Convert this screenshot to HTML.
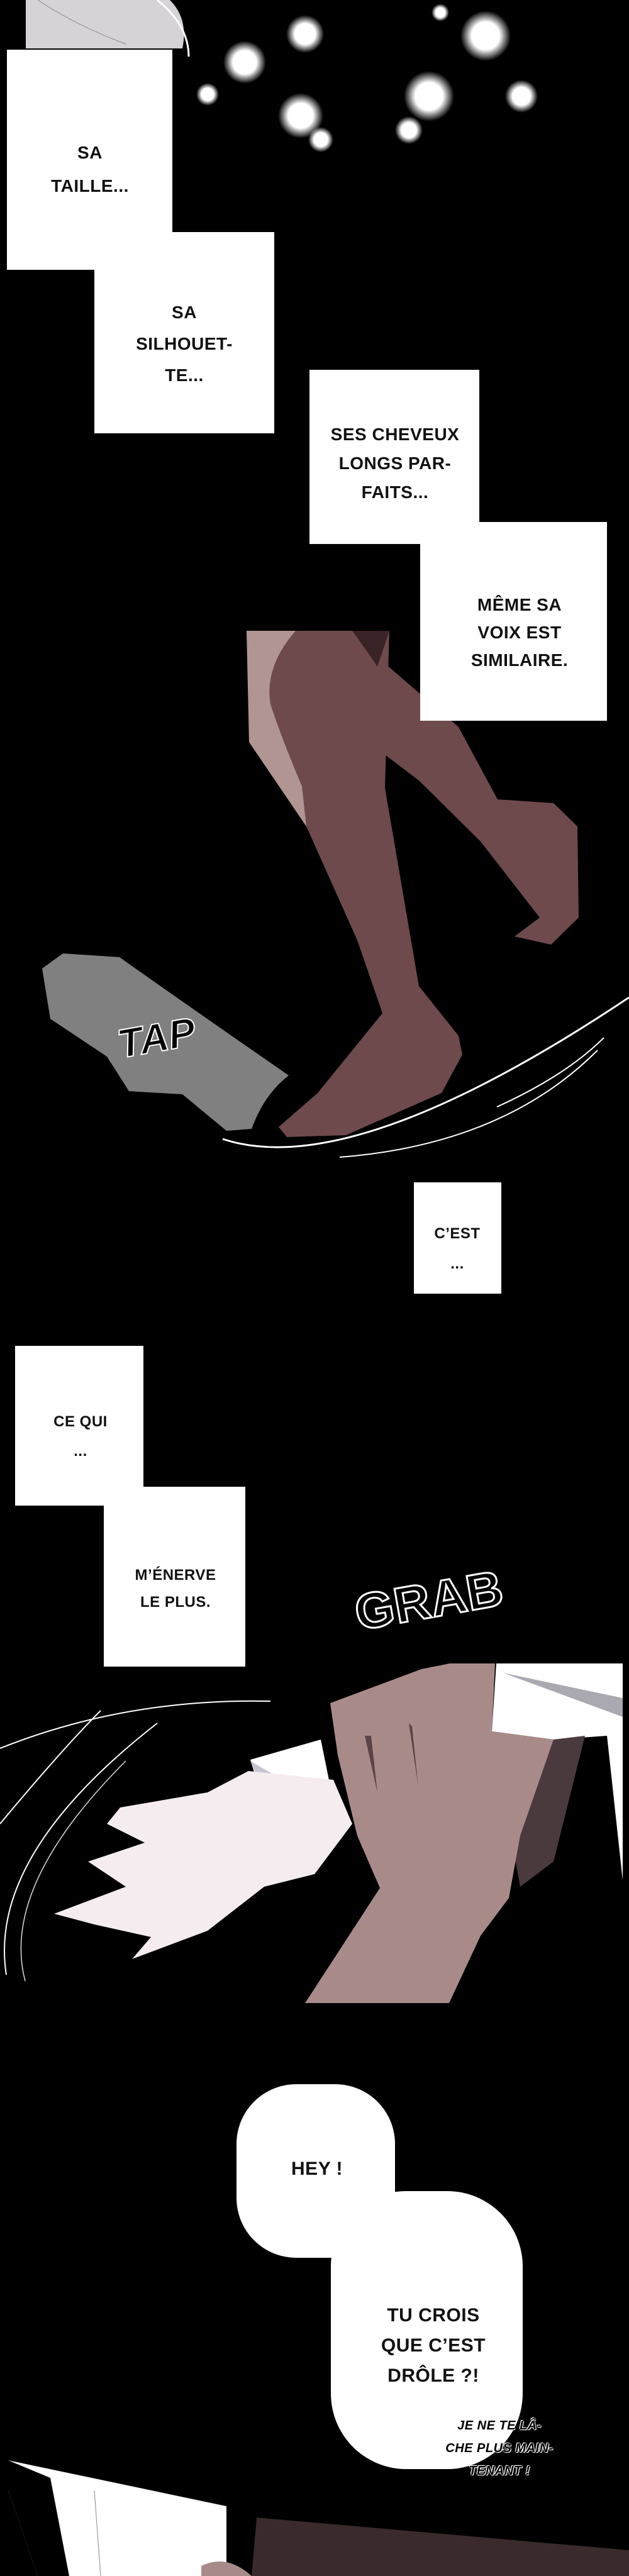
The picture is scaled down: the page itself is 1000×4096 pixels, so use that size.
<!DOCTYPE html>
<html><head><meta charset="utf-8"><style>
html,body{margin:0;padding:0;background:#000;}
#p{position:relative;width:1000px;height:4096px;background:#000;overflow:hidden;font-family:"Liberation Sans",sans-serif;}
.box{position:absolute;background:#fff;}
.t{position:absolute;color:#111;text-align:center;white-space:nowrap;transform:translateX(-50%);font-size:28px;line-height:1;letter-spacing:0.5px;font-weight:bold;}
svg{position:absolute;left:0;top:0;}
</style></head><body><div id="p">
<svg width="1000" height="4096" viewBox="0 0 1000 4096">
<defs>
<radialGradient id="g"><stop offset="0" stop-color="#fff"/><stop offset="0.55" stop-color="#fff"/><stop offset="1" stop-color="#fff" stop-opacity="0"/></radialGradient>
</defs>
<path d="M41 0 L270 0 Q300 30 290 77 L41 77 Z" fill="#d6d2d8"/>
<path d="M60 0 Q120 40 200 70" stroke="#888" fill="none"/>
<path d="M250 0 Q300 40 300 90" stroke="#fff" stroke-width="3" fill="none"/>
<g fill="url(#g)">
<circle cx="485" cy="54" r="30"/><circle cx="389" cy="99" r="34"/><circle cx="478" cy="184" r="36"/>
<circle cx="682" cy="153" r="40"/><circle cx="772" cy="57" r="40"/><circle cx="829" cy="153" r="26"/>
<circle cx="650" cy="207" r="22"/><circle cx="510" cy="222" r="20"/><circle cx="700" cy="20" r="14"/>
<circle cx="330" cy="150" r="18"/>
</g>
<path d="M568 1017 L729 1156 L791 1271 L880 1277 L918 1314 L920 1459 L876 1502 L818 1489 L858 1459 L764 1338 L666 1241 L546 1150 Z" fill="#6e4a4c"/>
<path d="M392 1003 L619 1003 L612 1253 L666 1568 L729 1647 L735 1677 L702 1738 L550 1805 L456 1808 L443 1792 L505 1738 L608 1611 L568 1495 L487 1314 L396 1180 Z" fill="#6e4a4c"/>
<path d="M392 1003 L470 1003 Q420 1060 430 1120 Q450 1180 480 1250 L487 1314 L396 1180 Z" fill="#b09592"/>
<path d="M560 1003 L619 1003 L600 1060 Q580 1030 560 1003Z" fill="#3a2326"/>
<path d="M67 1540 L100 1516 L190 1522 Q300 1600 459 1710 Q420 1740 400 1795 L360 1798 L290 1740 L205 1735 L170 1680 L80 1620 Z" fill="#808080"/>
<path d="M354 1811 Q560 1880 1000 1586" stroke="#fff" stroke-width="3" fill="none"/>
<path d="M540 1840 Q800 1820 950 1670" stroke="#fff" stroke-width="2" fill="none"/>
<path d="M790 1760 Q900 1710 960 1650" stroke="#fff" stroke-width="2" fill="none"/>
<path d="M0 2780 Q200 2700 430 2705" stroke="#fff" stroke-width="2" fill="none"/>
<path d="M10 3140 Q-20 2950 250 2740" stroke="#fff" stroke-width="2" fill="none"/>
<path d="M0 2900 Q100 2780 160 2720" stroke="#fff" stroke-width="2" fill="none"/>
<path d="M40 3150 Q0 3000 200 2800" stroke="#ddd" stroke-width="1.5" fill="none"/>
<path d="M789 2645 L990 2645 L990 2990 L965 2760 L880 2766 L782 2753 Z" fill="#fff"/>
<path d="M800 2660 L990 2700 L990 2730 Z" fill="#aaa8b0"/>
<path d="M782 2753 L880 2766 L930 2760 L880 2960 L827 3000 Z" fill="#4a3a3e"/>
<path d="M398 2798 L510 2766 L541 2919 L510 2925 L420 2870 Z" fill="#fff"/>
<path d="M398 2800 L500 2860 L510 2925 L440 2900 Z" fill="#c9c4d4"/>
<path d="M525 2708 L670 2654 L715 2645 L787 2645 L782 2753 L880 2766 L827 2919 L809 3018 L764 3078 L714 3185 L485 3185 L604 3002 L568 2919 L537 2791 Z" fill="#a88b88"/>
<path d="M580 2760 L600 2850 L590 2760 Z M650 2740 L665 2840 L655 2745Z" fill="#5a4448"/>
<path d="M191 2874 L330 2850 L395 2816 L530 2830 L560 2900 L500 2980 L420 3000 L330 3070 L210 3115 L240 3080 L150 3060 L86 3043 L200 3000 L140 2960 L230 2930 L170 2900 Z" fill="#f5ecef"/>
<rect x="376" y="3314" width="252" height="276" rx="95" fill="#fff"/>
<rect x="526" y="3484" width="305" height="442" rx="120" fill="#fff"/>
<path d="M13 3912 L360 3985 L360 4096 L60 4096 L13 3960 Z" fill="#fff"/>
<path d="M13 3912 L80 3940 L110 4096 L60 4096 L13 3960 Z" fill="#000"/>
<path d="M150 3960 L160 4096" stroke="#888" fill="none"/>
<path d="M408 4003 L1000 4055 L1000 4096 L400 4096 Z" fill="#3a2a2c"/>
<path d="M320 4080 Q360 4060 400 4096 L320 4096Z" fill="#a88b88"/>
</svg>
<div class="box" style="left:11px;top:79px;width:263px;height:350px"></div>
<div class="box" style="left:150px;top:369px;width:286px;height:320px"></div>
<div class="box" style="left:492px;top:588px;width:270px;height:277px"></div>
<div class="box" style="left:668px;top:830px;width:297px;height:316px"></div>
<div class="box" style="left:658px;top:1880px;width:139px;height:177px"></div>
<div class="box" style="left:24px;top:2140px;width:204px;height:254px"></div>
<div class="box" style="left:165px;top:2364px;width:225px;height:286px"></div>

<div class="t" style="left:143px;top:216px;line-height:53px">SA<br>TAILLE...</div>
<div class="t" style="left:293px;top:472px;line-height:50px">SA<br>SILHOUET-<br>TE...</div>
<div class="t" style="left:628px;top:668px;line-height:46px">SES CHEVEUX<br>LONGS PAR-<br>FAITS...</div>
<div class="t" style="left:826px;top:940px;line-height:44px">MÊME SA<br>VOIX EST<br>SIMILAIRE.</div>
<div class="t" style="left:727px;top:1938px;font-size:24px;line-height:48px">C’EST<br>...</div>
<div class="t" style="left:128px;top:2237px;font-size:24px;line-height:47px">CE QUI<br>...</div>
<div class="t" style="left:279px;top:2483px;font-size:24px;line-height:43px">M’ÉNERVE<br>LE PLUS.</div>
<div class="t" style="left:249px;top:1618px;font-size:64px;font-weight:bold;font-style:italic;color:#000;-webkit-text-stroke:2px #fff;transform:translateX(-50%) rotate(-10deg)">TAP</div>
<div class="t" style="left:682px;top:2505px;font-size:80px;font-weight:bold;color:#000;-webkit-text-stroke:3px #fff;transform:translateX(-50%) rotate(-10deg)">GRAB</div>
<div class="t" style="left:504px;top:3434px;font-size:30px">HEY !</div>
<div class="t" style="left:689px;top:3658px;font-size:30px;line-height:48px">TU CROIS<br>QUE C’EST<br>DRÔLE ?!</div>
<div class="t" style="left:794px;top:3839px;font-size:20px;font-style:italic;font-weight:bold;line-height:36px;color:#000;text-shadow:0 0 2px #fff,0 0 2px #fff,1px 1px 0 #fff,-1px -1px 0 #fff">JE NE TE LÂ-<br>CHE PLUS MAIN-<br>TENANT !</div>
</div></body></html>
